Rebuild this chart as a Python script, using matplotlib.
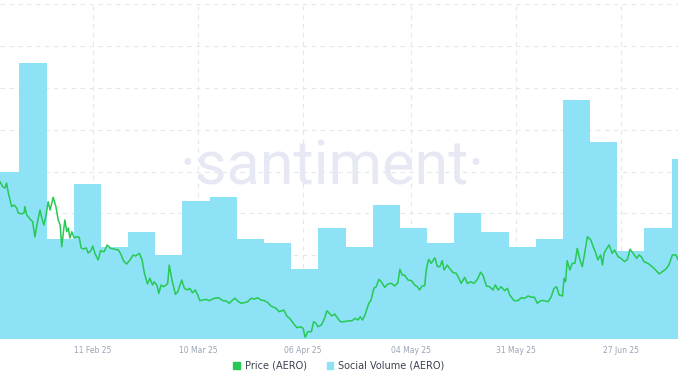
import pandas as pd
import matplotlib
matplotlib.use("Agg")
import matplotlib.pyplot as plt
from matplotlib.patches import Patch

# weekly social volume (AERO)
week_start = pd.date_range("2025-01-16", periods=26, freq="7D")
social_volume = [200, 330, 120, 185, 110, 128, 100, 165, 170, 120, 115, 83, 133,
                 110, 160, 133, 115, 150, 128, 110, 120, 285, 235, 105, 133, 215]

# price (AERO), sampled at days since 2025-01-18
price_day = [0.0, 0.7, 1.3, 1.7, 2.1, 3.0, 3.6, 4.3, 4.7, 5.6, 6.2, 6.4, 6.9, 7.7, 8.4,
             9.0, 9.6, 10.3, 10.7, 11.3, 11.8, 12.4, 12.9, 13.7, 14.4, 15.0, 15.5, 15.9,
             16.3, 16.7, 17.2, 17.6, 18.0, 18.5, 19.1, 19.8, 20.4, 20.9, 21.5, 22.2, 22.7,
             23.4, 23.9, 24.5, 25.3, 25.9, 26.8, 27.6, 28.5, 29.6, 30.5, 31.1, 31.8, 32.6,
             33.5, 34.3, 34.9, 35.9, 36.6, 37.2, 38.0, 38.6, 39.3, 39.7, 40.4, 40.9, 41.5,
             42.1, 42.8, 43.2, 43.6, 44.3, 45.2, 45.8, 46.8, 47.5, 48.3, 48.9, 49.6, 50.3,
             50.9, 51.5, 52.2, 53.1, 53.9, 55.2, 56.3, 57.4, 58.2, 59.1, 59.9, 60.5, 61.2,
             62.1, 62.9, 63.8, 64.7, 65.5, 66.4, 67.2, 68.1, 69.0, 69.8, 71.1, 71.9, 73.1,
             73.9, 74.8, 75.7, 76.5, 77.4, 78.1, 78.6, 79.3, 80.2, 80.8, 81.4, 81.9, 82.8,
             83.6, 84.2, 84.8, 85.5, 86.2, 86.8, 87.7, 88.5, 89.6, 90.7, 91.5, 92.2, 92.8,
             93.4, 94.1, 95.0, 95.6, 96.3, 96.9, 97.6, 98.2, 99.1, 99.9, 100.8, 101.7, 102.5,
             103.0, 103.6, 104.2, 105.1, 106.0, 106.8, 107.5, 108.1, 108.7, 109.4, 109.8,
             110.4, 111.1, 112.0, 112.7, 113.3, 113.9, 114.4, 115.2, 115.8, 116.7, 117.5,
             118.0, 118.8, 119.7, 120.4, 121.3, 122.1, 123.0, 123.8, 124.4, 125.3, 126.1,
             127.0, 127.6, 128.3, 129.1, 130.0, 130.7, 131.3, 132.4, 133.4, 134.3, 135.2,
             136.0, 137.0, 137.7, 138.4, 139.3, 140.1, 141.2, 142.0, 142.7, 143.4, 144.0,
             144.9, 145.3, 145.7, 146.1, 146.8, 147.4, 148.1, 148.7, 149.4, 150.0, 150.6,
             151.3, 152.2, 152.8, 153.5, 154.0, 154.7, 155.2, 155.6, 156.3, 156.9, 157.7,
             158.3, 159.2, 160.0, 160.9, 161.6, 162.3, 163.1, 164.0, 164.6, 165.2, 165.9,
             166.9, 168.0, 168.9, 169.8, 170.6, 171.5, 172.3, 173.2, 174.1, 174.7]
price = [1.374, 1.340, 1.331, 1.365, 1.304, 1.204, 1.215, 1.195, 1.161, 1.154, 1.161, 1.204,
         1.147, 1.120, 1.101, 0.997, 1.092, 1.181, 1.135, 1.079, 1.135, 1.238, 1.181, 1.268,
         1.204, 1.113, 1.079, 0.930, 1.024, 1.113, 1.033, 1.058, 0.990, 1.033, 0.990, 0.999,
         0.995, 0.922, 0.915, 0.922, 0.887, 0.903, 0.935, 0.881, 0.840, 0.903, 0.896, 0.942,
         0.919, 0.913, 0.908, 0.881, 0.835, 0.812, 0.840, 0.874, 0.867, 0.885, 0.840, 0.749,
         0.676, 0.715, 0.669, 0.691, 0.669, 0.612, 0.669, 0.657, 0.669, 0.680, 0.805, 0.703,
         0.605, 0.623, 0.703, 0.646, 0.635, 0.646, 0.616, 0.635, 0.601, 0.562, 0.566, 0.571,
         0.562, 0.578, 0.582, 0.562, 0.560, 0.544, 0.566, 0.578, 0.560, 0.544, 0.548, 0.555,
         0.578, 0.573, 0.582, 0.566, 0.562, 0.548, 0.525, 0.510, 0.486, 0.498, 0.457, 0.435,
         0.402, 0.377, 0.384, 0.373, 0.312, 0.350, 0.350, 0.418, 0.407, 0.384, 0.396, 0.441,
         0.493, 0.476, 0.457, 0.471, 0.448, 0.418, 0.418, 0.423, 0.425, 0.441, 0.430, 0.452,
         0.430, 0.471, 0.544, 0.566, 0.646, 0.657, 0.708, 0.691, 0.653, 0.676, 0.680, 0.662,
         0.685, 0.776, 0.737, 0.737, 0.703, 0.698, 0.669, 0.657, 0.635, 0.662, 0.664, 0.771,
         0.844, 0.817, 0.855, 0.794, 0.794, 0.835, 0.771, 0.805, 0.783, 0.753, 0.749, 0.726,
         0.680, 0.721, 0.680, 0.691, 0.680, 0.708, 0.756, 0.737, 0.662, 0.657, 0.635, 0.669,
         0.635, 0.657, 0.630, 0.646, 0.601, 0.562, 0.562, 0.582, 0.578, 0.594, 0.585, 0.585,
         0.544, 0.562, 0.562, 0.555, 0.589, 0.646, 0.657, 0.601, 0.594, 0.715, 0.691, 0.835,
         0.771, 0.817, 0.817, 0.919, 0.840, 0.794, 0.885, 0.999, 0.976, 0.930, 0.885, 0.840,
         0.874, 0.805, 0.885, 0.919, 0.942, 0.885, 0.908, 0.862, 0.851, 0.828, 0.844, 0.913,
         0.885, 0.851, 0.874, 0.862, 0.828, 0.817, 0.794, 0.771, 0.744, 0.760, 0.776, 0.805,
         0.874, 0.874, 0.840]

tick_dates = ["2025-02-11", "2025-03-10", "2025-04-06", "2025-05-04", "2025-05-31", "2025-06-27"]
tick_labels = ["11 Feb 25", "10 Mar 25", "06 Apr 25", "04 May 25", "31 May 25", "27 Jun 25"]

start = pd.Timestamp("2025-01-18")
price_time = start + pd.to_timedelta(price_day, unit="D")

fig = plt.figure(figsize=(6.78, 3.81), dpi=100)
ax = fig.add_axes([0, 1 - 339 / 381, 1, (339 - 4) / 381])

ax.bar(week_start, social_volume, width=7, align="edge", color="#8ee2f5",
       edgecolor="none", zorder=2)
ax.set_ylim(0, 400)
ax.set_yticks(range(0, 401, 50))
ax.set_xlim(start, start + pd.Timedelta(days=174.65))
ax.set_xticks(pd.to_datetime(tick_dates))
ax.set_xticklabels(tick_labels)
ax.tick_params(axis="x", length=0, pad=5, labelsize=5.5, labelcolor="#9aa3b5")
ax.tick_params(axis="y", length=0, labelleft=False)
ax.grid(True, color="#e4e7ee", linestyle=(0, (4, 4)), linewidth=0.8)
ax.set_axisbelow(True)
for s in ax.spines.values():
    s.set_visible(False)

# watermark
ax.text(0.49, 0.46, "\u00b7santiment\u00b7", transform=ax.transAxes, ha="center",
        va="baseline", fontsize=44, color="#e6e9f3",
        family=["Roboto", "DejaVu Sans"], zorder=1)

ax2 = ax.twinx()
ax2.plot(price_time, price, color="#26c953", linewidth=1.1, zorder=3)
ax2.set_ylim(0.30, 2.588)
ax2.set_yticks([])
for s in ax2.spines.values():
    s.set_visible(False)

handles = [Patch(color="#26c953", label="Price (AERO)"),
           Patch(color="#8ee2f5", label="Social Volume (AERO)")]
fig.legend(handles=handles, loc="center", bbox_to_anchor=(0.5, 1 - 366 / 381), ncol=2,
           frameon=False, fontsize=7, handlelength=0.7, handleheight=0.7,
           handletextpad=0.5, columnspacing=2.0, labelcolor="#3a4150")

fig.savefig("out.png", dpi=100)
